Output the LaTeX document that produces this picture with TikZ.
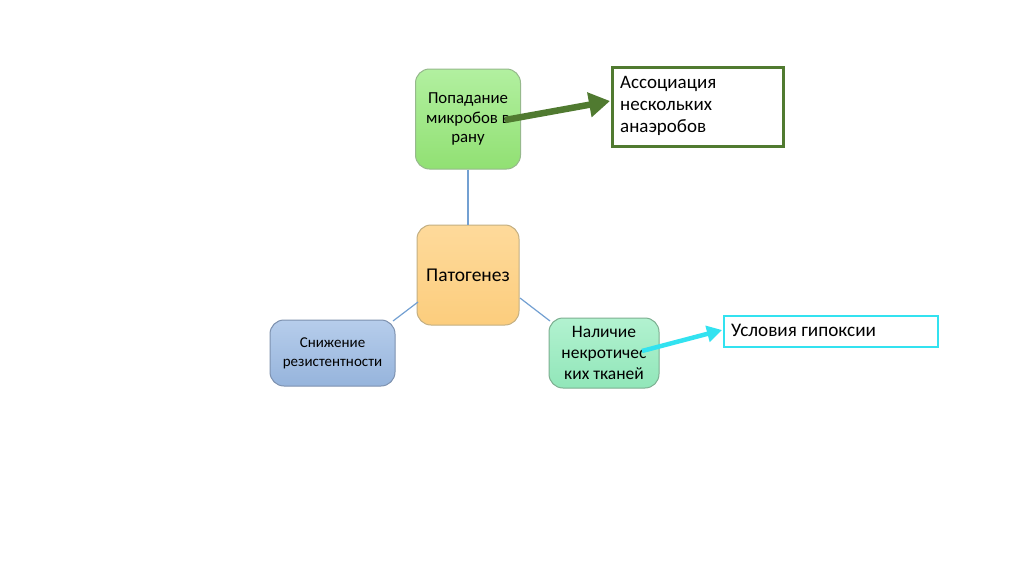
\documentclass[tikz,border=0pt]{standalone}
\usepackage{fontspec}
\setmainfont{Carlito}
\usetikzlibrary{arrows.meta}
\definecolor{gtop}{RGB}{178,240,160}
\definecolor{gbot}{RGB}{145,224,115}
\definecolor{gdraw}{RGB}{150,185,140}
\definecolor{otop}{RGB}{254,218,155}
\definecolor{obot}{RGB}{252,205,125}
\definecolor{odraw}{RGB}{195,175,130}
\definecolor{btop}{RGB}{182,205,235}
\definecolor{bbot}{RGB}{150,180,220}
\definecolor{bdraw}{RGB}{125,145,175}
\definecolor{ttop}{RGB}{178,242,208}
\definecolor{tbot}{RGB}{145,230,185}
\definecolor{tdraw}{RGB}{125,175,145}
\definecolor{dkgreen}{RGB}{80,122,48}
\definecolor{cyanb}{RGB}{50,226,240}
\definecolor{connc}{RGB}{115,160,210}
\begin{document}
\begin{tikzpicture}[x=1pt,y=-1pt,
  rbox/.style={rounded corners=14pt, line width=1pt, inner sep=0pt, align=center},
  conn/.style={draw=connc, line width=1.2pt},
  txt/.style={font=\fontsize{15}{19}\selectfont}
]
\useasboundingbox[fill=white] (0,0) rectangle (1024,574);
\node[rbox, draw=gdraw, minimum width=105pt, minimum height=100pt,
  top color=gtop, bottom color=gbot, font=\fontsize{16.8}{19.5}\selectfont]
  (top) at (468,119) {Попадание\\микробов в\\рану};
\node[rbox, draw=odraw, minimum width=102pt, minimum height=100pt,
  top color=otop, bottom color=obot, font=\fontsize{19.5}{22}\selectfont]
  (mid) at (468,275) {Патогенез};
\node[rbox, draw=bdraw, minimum width=125pt, minimum height=66pt,
  top color=btop, bottom color=bbot, txt]
  (left) at (332.5,353) {Снижение\\резистентности};
\node[rbox, draw=tdraw, minimum width=110pt, minimum height=70pt,
  top color=ttop, bottom color=tbot, font=\fontsize{17.5}{21}\selectfont]
  (right) at (604,353) {Наличие\\некротичес\\ких тканей};
\node[draw=dkgreen, line width=2.6pt, fill=white, minimum width=171pt, minimum height=79pt,
  inner sep=0pt, anchor=north west] (assoc) at (611,66) {};
\node[anchor=north west, inner sep=0pt, align=left, font=\fontsize{19}{22}\selectfont] (assoctxt) at (620,76)
  {Ассоциация\\нескольких\\анаэробов};
\node[draw=cyanb, line width=2.2pt, fill=white, minimum width=214pt, minimum height=31pt,
  inner sep=0pt, anchor=north west] (hyp) at (723,315) {};
\node[anchor=west, font=\fontsize{19.2}{22}\selectfont, inner sep=0pt] (hyptxt) at (731,330) {Условия гипоксии};
\draw[conn] (top.south) -- (mid.north);
\coordinate (ml) at (418,302);
\coordinate (lr) at (393,321);
\coordinate (mr) at (520,298);
\coordinate (rl) at (550,321);
\draw[conn] (ml) -- (lr);
\draw[conn] (mr) -- (rl);
\coordinate (a1) at (505,120);
\coordinate (a2) at (610,101);
\draw[line width=6.5pt, dkgreen, -{Triangle[length=21pt,width=24pt]}] (a1) -- (a2);
\coordinate (c1) at (642,351);
\coordinate (c2) at (722,330);
\draw[line width=4.5pt, cyanb, -{Triangle[length=15pt,width=16pt]}] (c1) -- (c2);
\end{tikzpicture}
\end{document}
